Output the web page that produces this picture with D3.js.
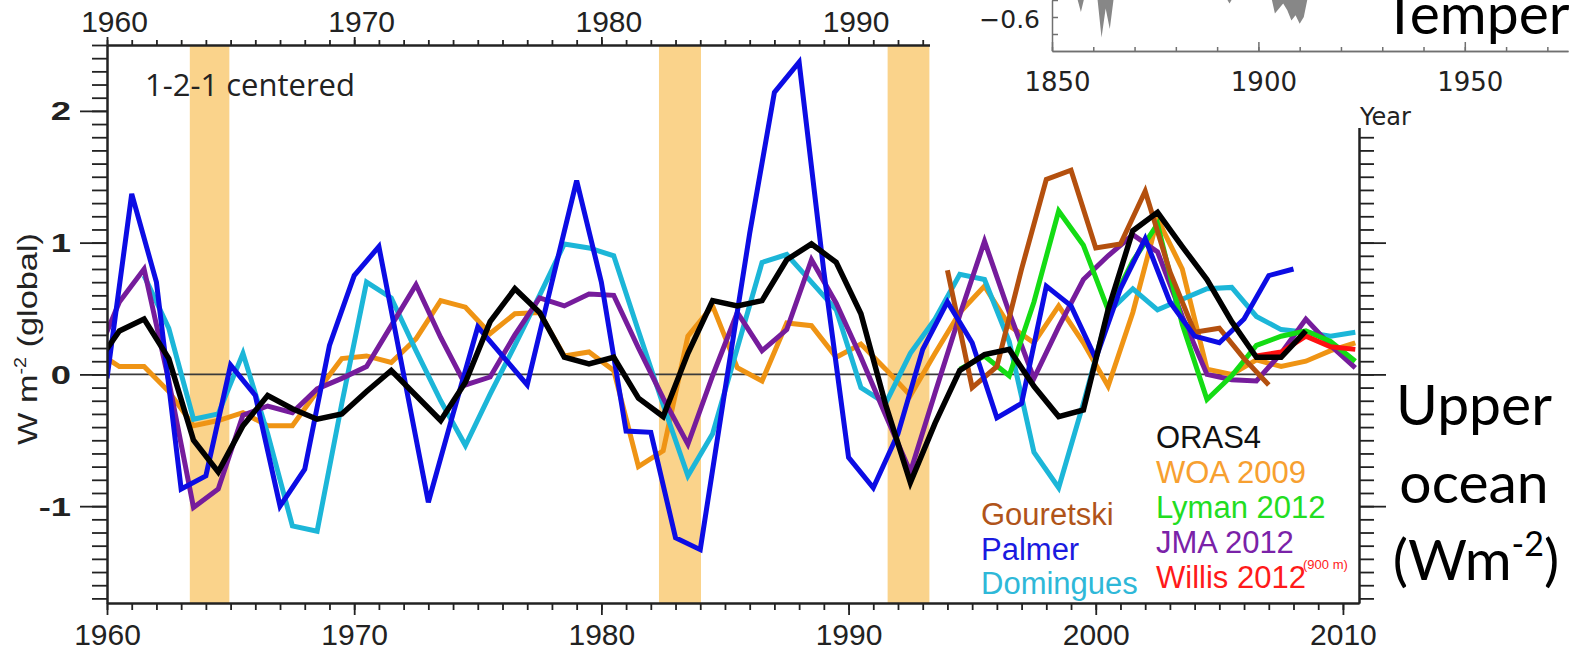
<!DOCTYPE html>
<html>
<head>
<meta charset="utf-8">
<script src="https://cdn.jsdelivr.net/npm/d3@7"></script>
<style>
  body { margin: 0; background: #fff; }
  svg { display: block; }
  .ax .domain { stroke: #222; stroke-width: 2; }
  .ax line { stroke: #222; stroke-width: 1.8; }
  .ax text { font-family: "Liberation Sans", Arial, sans-serif; font-size: 30px; fill: #222; }
  .inax .domain { stroke: #707070; stroke-width: 1.5; }
  .inax line { stroke: #707070; stroke-width: 1.5; }
  .inax text { font-family: "DejaVu Sans", sans-serif; font-size: 26px; fill: #222; }
</style>
</head>
<body>
<div id="my_dataviz"></div>
<script>
// data (W m-2), yearly points
const orasStart = 1959.5
const oras = [0.06, 0.33, 0.42, 0.12, -0.50, -0.74, -0.39, -0.16, -0.26, -0.34,
  -0.30, -0.13, 0.03, -0.16, -0.35, -0.06, 0.40, 0.65, 0.47, 0.13,
  0.08, 0.13, -0.18, -0.32, 0.16, 0.56, 0.52, 0.56, 0.87, 0.99,
  0.85, 0.46, -0.23, -0.82, -0.37, 0.03, 0.15, 0.19, -0.09, -0.32,
  -0.27, 0.49, 1.09, 1.23, 0.97, 0.72, 0.40, 0.13, 0.13, 0.33]

const woaStart = 1959.5
const woa = [0.18, 0.06, 0.06, -0.13, -0.39, -0.35, -0.29, -0.39, -0.39, -0.13,
  0.12, 0.14, 0.09, 0.27, 0.56, 0.51, 0.31, 0.46, 0.47, 0.14,
  0.17, 0.03, -0.70, -0.58, 0.29, 0.52, 0.05, -0.05, 0.39, 0.37,
  0.13, 0.23, 0.04, -0.16, 0.16, 0.47, 0.67, 0.37, 0.24, 0.52,
  0.24, -0.09, 0.47, 1.18, 0.80, 0.04, 0.00, 0.11, 0.06, 0.10,
  0.18, 0.24]

const domStart = 1961.5
const domingues = [0.75, 0.35, -0.34, -0.30, 0.16, -0.45, -1.15, -1.19,
  -0.22, 0.70, 0.58, 0.18, -0.20, -0.54, -0.15, 0.22, 0.60, 0.99,
  0.96, 0.90, 0.33, -0.23, -0.77, -0.45, 0.20, 0.85, 0.91, 0.70,
  0.49, -0.10, -0.22, 0.16, 0.42, 0.76, 0.72, 0.25, -0.59, -0.86,
  -0.22, 0.47, 0.65, 0.49, 0.57, 0.65, 0.66, 0.44, 0.34, 0.32,
  0.29, 0.32]

const jmaStart = 1959.5
const jma = [0.10, 0.55, 0.80, -0.05, -1.01, -0.87, -0.31, -0.24, -0.29, -0.11,
  -0.03, 0.06, 0.37, 0.68, 0.28, -0.08, -0.02, 0.30, 0.58, 0.52,
  0.61, 0.60, 0.20, -0.18, -0.53, -0.01, 0.47, 0.18, 0.34, 0.87,
  0.54, 0.13, -0.31, -0.74, -0.14, 0.45, 1.01, 0.47, -0.03, 0.36,
  0.72, 0.90, 1.06, 0.93, 0.44, 0.00, -0.04, -0.05, 0.16, 0.42,
  0.22, 0.05]

const palmerStart = 1960
const palmer = [-0.03, 1.37, 0.70, -0.87, -0.77, 0.07, -0.16, -1.00, -0.72, 0.22,
  0.75, 0.97, 0.00, -0.97, -0.30, 0.36, 0.14, -0.08, 0.70, 1.47,
  0.70, -0.43, -0.44, -1.24, -1.33, -0.12, 1.07, 2.14, 2.37, 0.78,
  -0.63, -0.86, -0.45, 0.19, 0.55, 0.24, -0.33, -0.22, 0.67, 0.52,
  0.12, 0.65, 1.03, 0.55, 0.29, 0.24, 0.42, 0.75, 0.80]

const gourStart = 1994
const gouretski = [0.79, -0.10, 0.06, 0.80, 1.48, 1.55, 0.96, 0.99, 1.39, 0.78, 0.32, 0.35, 0.12, -0.08]

const lymanStart = 1994.5
const lyman = [0.04, 0.14, -0.01, 0.55, 1.24, 0.98, 0.49, 0.86, 1.14, 0.38, -0.19, -0.01, 0.22, 0.29, 0.33, 0.25, 0.10]

const willisStart = 2006.5
const willis = [0.14, 0.17, 0.29, 0.21, 0.19]

// volcanic periods (shaded)
const bands = [[1963.35, 1964.95], [1982.33, 1984.03], [1991.58, 1993.27]]

// bits of the inset temperature chart that stick out under the crop
const insetYears = [1850, 1856, 1857, 1858, 1861, 1862, 1863, 1864, 1865, 1892, 1893, 1894,
  1903, 1904, 1905, 1906, 1907, 1908, 1909, 1910, 1911, 1912, 1915]
const insetValues = [-0.45, -0.48, -0.57, -0.47, -0.49, -0.72, -0.55, -0.67, -0.48, -0.48, -0.52, -0.48,
  -0.47, -0.58, -0.55, -0.52, -0.56, -0.62, -0.59, -0.64, -0.60, -0.48, -0.45]

const series = [
  { name: "WOA 2009", start: woaStart, values: woa, color: "#ef9414" },
  { name: "Domingues", start: domStart, values: domingues, color: "#1cb6d8" },
  { name: "JMA 2012", start: jmaStart, values: jma, color: "#761c9c" },
  { name: "Lyman 2012", start: lymanStart, values: lyman, color: "#14dc14" },
  { name: "Gouretski", start: gourStart, values: gouretski, color: "#b4500e" },
  { name: "Palmer", start: palmerStart, values: palmer, color: "#0c0ce4" },
  { name: "Willis 2012", start: willisStart, values: willis, color: "#ff1010" },
  { name: "ORAS4", start: orasStart, values: oras, color: "#000000" }
]

const svg = d3.select("#my_dataviz")
  .append("svg")
    .attr("width", 1569)
    .attr("height", 652)

const x = d3.scaleLinear().domain([1960, 2010.65]).range([107, 1359])
const y = d3.scaleLinear().domain([-1.735, 2.5]).range([603, 45])

svg.append("defs").append("clipPath").attr("id", "plot")
  .append("rect")
    .attr("x", x(1960)).attr("y", y(2.5))
    .attr("width", x(2010.65) - x(1960)).attr("height", y(-1.735) - y(2.5))

// shaded bands
svg.append("g")
  .selectAll("rect")
  .data(bands)
  .join("rect")
    .attr("x", d => x(d[0]))
    .attr("width", d => x(d[1]) - x(d[0]))
    .attr("y", y(2.5))
    .attr("height", y(-1.735) - y(2.5))
    .style("fill", "#fad38b")

// zero line
svg.append("line")
  .attr("x1", x(1960)).attr("x2", x(2010.65))
  .attr("y1", y(0)).attr("y2", y(0))
  .style("stroke", "#3a3a3a")
  .style("stroke-width", 1.6)

const line = d3.line()
  .x(d => x(d[0]))
  .y(d => y(d[1]))

svg.append("g")
  .attr("clip-path", "url(#plot)")
  .selectAll("path")
  .data(series)
  .join("path")
    .attr("d", s => line(s.values.map((v, i) => [s.start + i, v])))
    .style("fill", "none")
    .style("stroke", s => s.color)
    .style("stroke-width", s => s.name == "ORAS4" ? 5.5 : 5)

// axes: minor and major ticks drawn separately
const yMinor = d3.range(-17, 26).map(d => d / 10)
const yMajor = [-1, 0, 1, 2]
const xMinor = d3.range(1960, 2011)
const xMajor = [1960, 1970, 1980, 1990, 2000, 2010]

svg.append("g").attr("class", "ax")
  .attr("transform", `translate(${x(1960)},0)`)
  .call(d3.axisLeft(y).tickValues(yMinor).tickSize(15).tickSizeOuter(0).tickFormat(""))
svg.append("g").attr("class", "ax")
  .attr("transform", `translate(${x(1960)},0)`)
  .call(d3.axisLeft(y).tickValues(yMajor).tickSize(27).tickSizeOuter(0).tickFormat(""))

svg.append("g").attr("class", "ax")
  .attr("transform", `translate(${x(2010.65)},0)`)
  .call(d3.axisRight(y).tickValues(yMinor).tickSize(15).tickSizeOuter(0).tickFormat(""))
svg.append("g").attr("class", "ax")
  .attr("transform", `translate(${x(2010.65)},0)`)
  .call(d3.axisRight(y).tickValues(yMajor).tickSize(27).tickSizeOuter(0).tickFormat(""))

svg.append("g").attr("class", "ax")
  .attr("transform", `translate(0,${y(-1.735)})`)
  .call(d3.axisBottom(x).tickValues(xMinor).tickSize(7).tickSizeOuter(0).tickFormat(""))
svg.append("g").attr("class", "ax")
  .attr("transform", `translate(0,${y(-1.735)})`)
  .call(d3.axisBottom(x).tickValues(xMajor).tickSize(12).tickPadding(9).tickSizeOuter(0).tickFormat(d3.format("d")))

svg.append("g").attr("class", "ax")
  .attr("transform", `translate(0,${y(2.5)})`)
  .call(d3.axisTop(x).tickValues(xMinor).tickSize(5).tickSizeOuter(0).tickFormat(""))
svg.append("g").attr("class", "ax")
  .attr("transform", `translate(0,${y(2.5)})`)
  .call(d3.axisTop(x).tickValues(xMajor).tickSize(8).tickPadding(5).tickSizeOuter(0).tickFormat(d3.format("d")))
  .selectAll("text").attr("dx", 7)

// y tick labels (wide glyphs in the original)
svg.append("g")
  .selectAll("text")
  .data(yMajor)
  .join("text")
    .attr("transform", d => `translate(71,${y(d)}) scale(1.4,1)`)
    .attr("dy", "0.36em")
    .attr("text-anchor", "end")
    .style("font-family", "Liberation Sans, Arial, sans-serif")
    .style("font-size", "26px")
    .style("font-weight", "bold")
    .style("fill", "#222")
    .text(d => d)

// y axis title
const ylab = svg.append("text")
  .attr("transform", "translate(37,339) rotate(-90)")
  .attr("text-anchor", "middle")
  .attr("textLength", 212)
  .attr("lengthAdjust", "spacingAndGlyphs")
  .style("font-family", "Liberation Sans, Arial, sans-serif")
  .style("font-size", "28px")
  .style("fill", "#222")
ylab.append("tspan").text("W m")
ylab.append("tspan").attr("dy", -11).style("font-size", "16px").text("-2")
ylab.append("tspan").attr("dy", 11).text(" (global)")

svg.append("text")
  .attr("x", 145).attr("y", 96)
  .style("font-family", "Open Sans, sans-serif")
  .style("font-size", "31px")
  .style("fill", "#222")
  .text("1-2-1 centered")

// legend
const legendLeft = [
  { name: "Gouretski", color: "#b0541a", y: 525 },
  { name: "Palmer", color: "#1a1ae0", y: 560 },
  { name: "Domingues", color: "#2eb8d8", y: 594 }
]
const legendRight = [
  { name: "ORAS4", color: "#111111", y: 448 },
  { name: "WOA 2009", color: "#f7a030", y: 483 },
  { name: "Lyman 2012", color: "#22dd22", y: 518 },
  { name: "JMA 2012", color: "#7a22a8", y: 553 },
  { name: "Willis 2012", color: "#ff1a1a", y: 588 }
]
svg.append("g")
  .selectAll("text")
  .data(legendLeft.map(d => Object.assign({ x: 981 }, d)).concat(legendRight.map(d => Object.assign({ x: 1156 }, d))))
  .join("text")
    .attr("x", d => d.x)
    .attr("y", d => d.y)
    .style("font-family", "Liberation Sans, Arial, sans-serif")
    .style("font-size", "31px")
    .style("fill", d => d.color)
    .text(d => d.name)
svg.append("text")
  .attr("x", 1303).attr("y", 569)
  .style("font-family", "Liberation Sans, Arial, sans-serif")
  .style("font-size", "13px")
  .style("fill", "#ff1a1a")
  .text("(900 m)")

// inset (cropped temperature chart at top right)
const inset = svg.append("g")
inset.append("rect")
  .attr("x", 930).attr("y", 0)
  .attr("width", 639).attr("height", 128)
  .style("fill", "#fff")

const ix = d3.scaleLinear().domain([1850, 1975]).range([1052, 1568])
const iy = d3.scaleLinear().domain([-0.8, -0.5]).range([51, 0])

inset.append("clipPath").attr("id", "insetclip")
  .append("rect").attr("x", 1052).attr("y", 0).attr("width", 517).attr("height", 51)

inset.append("path")
  .attr("clip-path", "url(#insetclip)")
  .attr("d", d3.area()
    .x(d => ix(d[0]))
    .y0(-10)
    .y1(d => iy(d[1]))
    (insetYears.map((yr, i) => [yr, insetValues[i]])))
  .style("fill", "#878787")

inset.append("g").attr("class", "inax")
  .attr("transform", "translate(0,51)")
  .call(d3.axisBottom(ix).tickValues(d3.range(1850, 1980, 10)).tickSizeInner(-4).tickSizeOuter(0).tickFormat(""))
inset.append("g").attr("class", "inax")
  .attr("transform", "translate(0,51)")
  .call(d3.axisBottom(ix).tickValues([1850, 1900, 1950]).tickSizeInner(-9).tickPadding(22).tickSizeOuter(0).tickFormat(d3.format("d")))
  .selectAll("text").attr("dx", 5)
inset.append("g").attr("class", "inax")
  .attr("transform", "translate(1052,0)")
  .call(d3.axisRight(iy).tickValues([-0.5, -0.6, -0.7]).tickSize(6).tickSizeOuter(0).tickFormat(""))

inset.append("text")
  .attr("x", 1040).attr("y", 28)
  .attr("text-anchor", "end")
  .style("font-family", "DejaVu Sans, sans-serif")
  .style("font-size", "25px")
  .style("fill", "#222")
  .text("\u22120.6")

inset.append("text")
  .attr("x", 1360).attr("y", 125)
  .style("font-family", "DejaVu Sans, sans-serif")
  .style("font-size", "24px")
  .style("fill", "#222")
  .text("Year")

// cropped title word, cut at the top edge as in the original
inset.append("text")
  .attr("x", 1383).attr("y", 34)
  .style("font-family", "Lato, sans-serif")
  .style("font-size", "57px")
  .style("fill", "#000")
  .text("Temper")

// right-hand caption
const cap = svg.append("g")
  .style("font-family", "Lato, sans-serif")
  .style("font-size", "57px")
  .style("fill", "#000")
  .attr("text-anchor", "middle")
cap.append("text").attr("x", 1474).attr("y", 425).text("Upper")
cap.append("text").attr("x", 1474).attr("y", 503).text("ocean")
const unit = cap.append("text").attr("x", 1476).attr("y", 580)
unit.append("tspan").text("(Wm")
unit.append("tspan").attr("dy", -24).style("font-size", "34px").text("-2")
unit.append("tspan").attr("dy", 24).text(")")
</script>
</body>
</html>
